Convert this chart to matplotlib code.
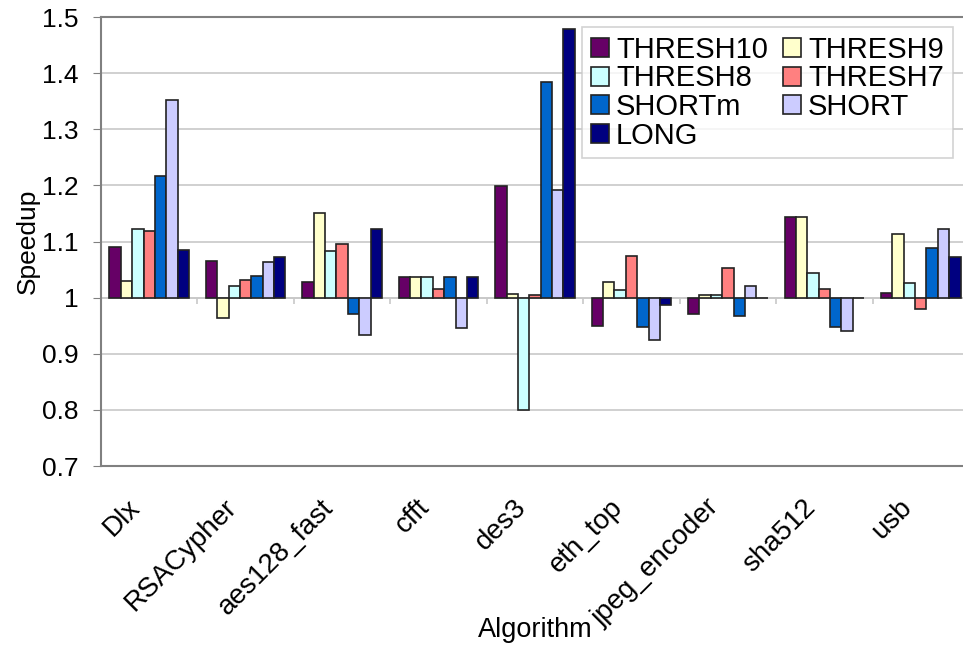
import numpy as np
import matplotlib.pyplot as plt
from matplotlib.patches import Patch
from matplotlib.transforms import ScaledTranslation

plt.rcParams['font.family'] = ['Liberation Sans', 'DejaVu Sans']

# benchmark names and speedup per configuration
algorithms = ['Dlx', 'RSACypher', 'aes128_fast', 'cfft', 'des3',
              'eth_top', 'jpeg_encoder', 'sha512', 'usb']
series = ['THRESH10', 'THRESH9', 'THRESH8', 'THRESH7', 'SHORTm', 'SHORT', 'LONG']
colors = ['#660066', '#FFFFCC', '#CCFFFF', '#FF8080', '#0066CC', '#CCCCFF', '#000080']

thresh10 = [1.090, 1.065, 1.027, 1.036, 1.198, 0.949, 0.970, 1.144, 1.009]
thresh9 = [1.030, 0.963, 1.150, 1.036, 1.006, 1.027, 1.004, 1.144, 1.114]
thresh8 = [1.123, 1.020, 1.083, 1.037, 0.800, 1.014, 1.005, 1.043, 1.026]
thresh7 = [1.118, 1.031, 1.096, 1.015, 1.005, 1.075, 1.053, 1.016, 0.980]
shortm = [1.216, 1.038, 0.970, 1.036, 1.384, 0.948, 0.967, 0.947, 1.088]
short = [1.352, 1.064, 0.934, 0.946, 1.191, 0.925, 1.021, 0.940, 1.122]
long_ = [1.084, 1.073, 1.123, 1.036, 1.478, 0.986, 0.999, 0.999, 1.072]
values = [thresh10, thresh9, thresh8, thresh7, shortm, short, long_]

fig = plt.figure(figsize=(9.63, 6.49), dpi=100)
ax = fig.add_axes([101 / 963, 183 / 649, 868 / 963, 449 / 649])

x = np.arange(len(algorithms))
w = 0.118
for i, (name, vals) in enumerate(zip(series, values)):
    heights = np.array(vals) - 1.0
    ax.bar(x + (i - 3) * w, heights, w, bottom=1.0, color=colors[i],
           edgecolor='#222222', linewidth=1.2, label=name, zorder=3)

ax.set_xlim(-0.5, len(algorithms) - 0.5)
ax.set_ylim(0.7, 1.5)
ax.set_yticks(np.arange(0.7, 1.51, 0.1))
ax.set_yticklabels(['0.7', '0.8', '0.9', '1', '1.1', '1.2', '1.3', '1.4', '1.5'])
ax.yaxis.grid(True, color='#c8c8c8', linewidth=1.2, zorder=0)
ax.set_axisbelow(True)

# category axis crosses at 1.0 with boundary ticks
ax.axhline(1.0, color='#c8c8c8', linewidth=1.2, zorder=1)
ax.vlines(np.arange(0.5, len(algorithms)), 0.988, 1.0, color='#c8c8c8',
          linewidth=1.2, zorder=1)

ax.set_xticks(x)
ax.set_xticklabels(algorithms, rotation=45, ha='right', va='center',
                   rotation_mode='anchor', fontsize=20)
ax.tick_params(axis='x', length=0, pad=27)
for lbl in ax.get_xticklabels():
    lbl.set_transform(lbl.get_transform() +
                      ScaledTranslation(-0.13, 0, fig.dpi_scale_trans))
ax.tick_params(axis='y', length=6, color='#808080', labelsize=19, pad=10)

for side in ['left', 'bottom', 'top']:
    ax.spines[side].set_color('#808080')
    ax.spines[side].set_linewidth(1.5)
ax.spines['right'].set_visible(False)

ax.set_ylabel('Speedup', fontsize=19, labelpad=2)
fig.text(535 / 963, 1 - 630 / 649, 'Algorithm', fontsize=19.5,
         ha='center', va='center')

# legend laid out row by row in two columns
order = [0, 2, 4, 6, 1, 3, 5]
handles = [Patch(facecolor=colors[k], edgecolor='#222222', linewidth=1.2)
           for k in order]
labels = [series[k] for k in order]
leg = fig.legend(handles, labels, ncol=2, loc='upper left',
                 bbox_to_anchor=(582 / 963, 1 - 27 / 649), fontsize=21,
                 frameon=True, fancybox=False, edgecolor='#c8c8c8',
                 handlelength=0.62, handleheight=0.62, handletextpad=0.25,
                 labelspacing=0.02, columnspacing=0.5, borderpad=0.3,
                 borderaxespad=0)
leg.get_frame().set_linewidth(1.2)

fig.savefig('out.png', dpi=100)
